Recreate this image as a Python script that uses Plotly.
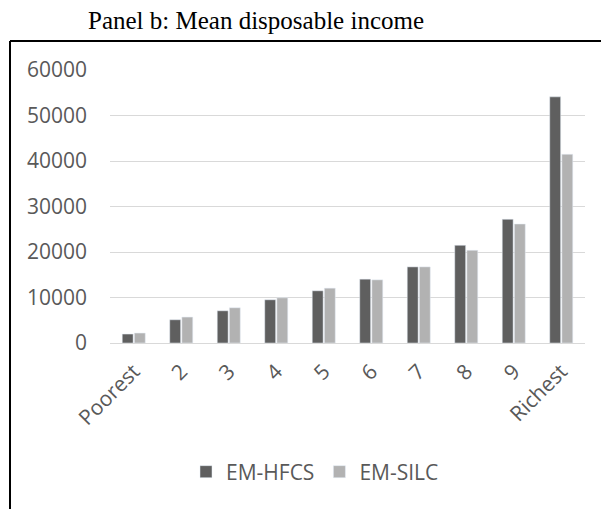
import plotly.graph_objects as go

categories = ["Poorest", "2", "3", "4", "5", "6", "7", "8", "9", "Richest"]
hfcs = [1970, 5110, 7080, 9500, 11470, 14030, 16730, 21470, 27190, 54100]
silc = [2190, 5700, 7740, 9930, 12050, 13880, 16730, 20370, 26150, 41470]
series_names = ["EM-HFCS", "EM-SILC"]
title_text = "Panel b: Mean disposable income"

W, H = 609, 509
OFF = 8  # page body margin offset
L, R, T, B = 110 - OFF, 24 + OFF, 70 - OFF, 166 + OFF

fig = go.Figure()
fig.add_trace(go.Bar(x=categories, y=hfcs, name=series_names[0], marker_color="#5f5f5f"))
fig.add_trace(go.Bar(x=categories, y=silc, name=series_names[1], marker_color="#b2b2b2"))

pw, ph = W - L - R, H - T - B
fx = lambda px: (px - OFF - L) / pw
fy = lambda py: 1 - (py - OFF - T) / ph

font_fam = "Open Sans, Calibri, sans-serif"
fig.update_layout(
    width=W, height=H,
    margin=dict(l=L, r=R, t=T, b=B, pad=0),
    paper_bgcolor="white", plot_bgcolor="white",
    barmode="group", bargap=0.49, bargroupgap=0.1,
    showlegend=True,
    legend=dict(orientation="h", x=fx(315), xanchor="center",
                y=fy(472), yanchor="middle",
                font=dict(family=font_fam, size=21, color="#595959"),
                itemwidth=30, traceorder="normal"),
    font=dict(family=font_fam, color="#595959"),
)
fig.update_yaxes(range=[0, 60000], dtick=10000, showgrid=True, gridcolor="#d9d9d9", gridwidth=1.3,
                 zeroline=True, zerolinecolor="#d9d9d9", zerolinewidth=1.3, showline=False,
                 tickfont=dict(family=font_fam, size=21, color="#595959"),
                 ticklabelstandoff=22, tickformat="d")
fig.update_xaxes(showgrid=False, showline=False, tickangle=-45,
                 tickfont=dict(family=font_fam, size=21, color="#595959"),
                 ticklabelstandoff=11)

# title
fig.add_annotation(text=title_text, xref="paper", yref="paper",
                   x=fx(256), y=fy(21),
                   xanchor="center", yanchor="middle", showarrow=False,
                   font=dict(family="Liberation Serif, serif", size=25, color="#000000"))

# chart border (cut off at right and bottom)
fig.add_shape(type="line", xref="paper", yref="paper", x0=fx(10), x1=fx(W + 20), y0=fy(41), y1=fy(41),
              line=dict(color="#000000", width=2))
fig.add_shape(type="line", xref="paper", yref="paper", x0=fx(10), x1=fx(10), y0=fy(41), y1=fy(H + 20),
              line=dict(color="#000000", width=2))

fig.write_html("out.html")
